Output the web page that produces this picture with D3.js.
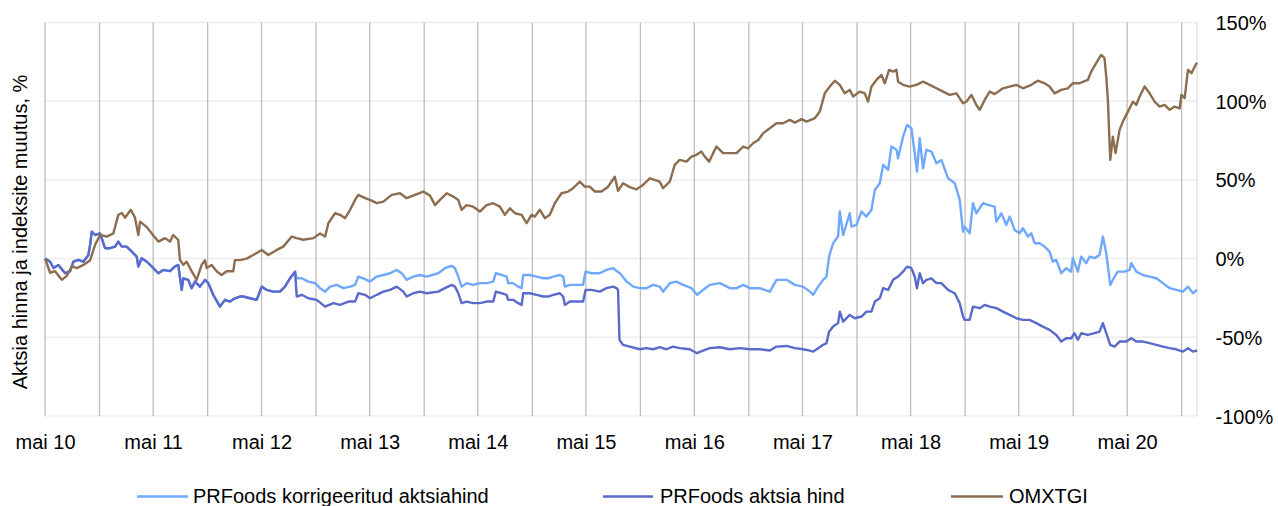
<!DOCTYPE html>
<html>
<head>
<meta charset="utf-8">
<script src="https://cdn.jsdelivr.net/npm/d3@7"></script>
<style>
  html, body { margin: 0; padding: 0; background: #fff; }
  svg { display: block; font-family: "Liberation Sans", Arial, sans-serif; }
</style>
</head>
<body>
<svg id="chart" width="1278" height="506"></svg>
<script>
// ---------- DATA (dates as decimal years, values in % change) ----------
const seriesNames = ["PRFoods korrigeeritud aktsiahind", "PRFoods aktsia hind", "OMXTGI"];
const tickLabels = ["mai 10","mai 11","mai 12","mai 13","mai 14","mai 15","mai 16","mai 17","mai 18","mai 19","mai 20"];
const tickYears = [2010,2011,2012,2013,2014,2015,2016,2017,2018,2019,2020];
const yTicks = [-100, -50, 0, 50, 100, 150];

const omxDates = [2010.330,2010.376,2010.422,2010.484,2010.530,2010.577,2010.623,2010.684,2010.746,2010.792,2010.838,2010.900,2010.961,2011.007,2011.039,2011.069,2011.122,2011.161,2011.192,2011.208,2011.270,2011.316,2011.377,2011.439,2011.485,2011.515,2011.561,2011.577,2011.608,2011.639,2011.685,2011.731,2011.778,2011.808,2011.824,2011.870,2011.916,2011.962,2012.009,2012.070,2012.085,2012.131,2012.193,2012.254,2012.332,2012.393,2012.471,2012.531,2012.609,2012.655,2012.716,2012.809,2012.870,2012.917,2012.947,2013.009,2013.055,2013.101,2013.148,2013.194,2013.224,2013.286,2013.332,2013.394,2013.455,2013.533,2013.609,2013.671,2013.748,2013.825,2013.887,2013.933,2013.979,2014.041,2014.102,2014.148,2014.179,2014.225,2014.286,2014.348,2014.410,2014.471,2014.533,2014.579,2014.626,2014.672,2014.734,2014.780,2014.826,2014.857,2014.903,2014.949,2014.995,2015.041,2015.103,2015.164,2015.210,2015.272,2015.318,2015.365,2015.411,2015.473,2015.534,2015.596,2015.626,2015.672,2015.734,2015.796,2015.857,2015.919,2015.965,2016.011,2016.042,2016.104,2016.150,2016.196,2016.258,2016.304,2016.350,2016.396,2016.427,2016.467,2016.504,2016.535,2016.596,2016.658,2016.720,2016.781,2016.827,2016.873,2016.920,2016.966,2017.027,2017.089,2017.150,2017.212,2017.258,2017.320,2017.366,2017.443,2017.489,2017.535,2017.582,2017.628,2017.674,2017.720,2017.766,2017.797,2017.859,2017.905,2017.935,2017.967,2018.013,2018.059,2018.090,2018.130,2018.167,2018.198,2018.213,2018.259,2018.321,2018.383,2018.444,2018.506,2018.568,2018.629,2018.690,2018.752,2018.814,2018.845,2018.891,2018.937,2018.968,2019.014,2019.060,2019.106,2019.183,2019.245,2019.307,2019.368,2019.445,2019.506,2019.568,2019.614,2019.660,2019.722,2019.783,2019.829,2019.891,2019.968,2019.999,2020.045,2020.091,2020.122,2020.138,2020.153,2020.175,2020.199,2020.224,2020.261,2020.291,2020.338,2020.384,2020.415,2020.446,2020.492,2020.538,2020.584,2020.630,2020.676,2020.723,2020.769,2020.815,2020.831,2020.861,2020.892,2020.925,2020.954,2020.975];
const omxValues = [0,-9,-8,-13.5,-11,-5,-6,-4,-1,8.7,15,14,16,27.8,29,26,31,26,15,23.5,20,16,10.8,13,10.8,15,11.9,-0.8,-4,-2,-8,-13.5,-4,-1,-6,-4,-8,-10.4,-8,-8,-1,-1,0,2.3,5.5,2.3,5.5,7.6,14,13,12,13,16,14,22.5,28.8,27.8,25.7,31,37.3,40.5,38.4,37.3,35.2,36.2,40.5,41.5,38.4,40.5,42.6,40,34,37.3,41.5,39.4,37.3,31,34,33,29.9,34,35.2,33,27.8,32,28.8,27.8,22.5,27.8,26.7,31,25.7,27.8,35.2,41.5,42.6,44.7,48.9,45.7,45.7,42.6,42.6,45.7,52,43,47.9,45.4,44,46.8,51,50,48.9,44.7,48.9,59.5,62.7,61.6,64.8,65.9,68,64.8,61.6,67,71.2,67,67,67,71.2,70.1,73.3,75.4,79.7,82.8,86,86,88.1,86.4,88.6,87,89.2,93.4,105,109.3,113,110.4,105,107.2,103,106.1,105,99.7,109.3,113.5,116.7,111.4,119.9,118.8,119.9,112.4,110.4,109.3,110.4,112.4,110.4,108.2,106.1,104,105,98.7,99.7,104,97.6,94.5,100.8,106.1,104.5,108.2,109.3,110.4,108.2,110.4,113,111.4,109.3,105,107.2,108.2,111.4,111.4,113.5,118.8,124.2,129.4,127.3,115.6,100.8,62.7,77.5,67,81.8,87,93.4,99.7,97.6,103,109.3,105,99.7,96.6,97.6,94.5,96.6,95.5,104,101.9,119.9,117.8,122,124.5];

const prfDates = [2010.330,2010.376,2010.407,2010.453,2010.515,2010.561,2010.591,2010.638,2010.684,2010.730,2010.746,2010.761,2010.792,2010.838,2010.884,2010.930,2010.977,2011.007,2011.039,2011.085,2011.131,2011.177,2011.192,2011.223,2011.270,2011.316,2011.346,2011.377,2011.423,2011.485,2011.531,2011.561,2011.593,2011.608,2011.654,2011.685,2011.716,2011.762,2011.808,2011.839,2011.885,2011.947,2011.993,2012.039,2012.085,2012.131,2012.162,2012.224,2012.286,2012.332,2012.378,2012.439,2012.501,2012.547,2012.593,2012.640,2012.655,2012.701,2012.762,2012.840,2012.917,2012.993,2013.055,2013.132,2013.194,2013.224,2013.286,2013.332,2013.394,2013.455,2013.517,2013.579,2013.640,2013.671,2013.732,2013.794,2013.856,2013.963,2014.025,2014.087,2014.118,2014.148,2014.179,2014.225,2014.286,2014.348,2014.410,2014.471,2014.496,2014.549,2014.595,2014.610,2014.656,2014.702,2014.734,2014.749,2014.810,2014.872,2014.933,2014.980,2015.026,2015.088,2015.118,2015.134,2015.180,2015.242,2015.303,2015.325,2015.380,2015.457,2015.519,2015.580,2015.611,2015.626,2015.639,2015.672,2015.734,2015.827,2015.889,2015.950,2016.011,2016.073,2016.134,2016.196,2016.288,2016.356,2016.411,2016.473,2016.566,2016.658,2016.750,2016.842,2016.935,2017.027,2017.089,2017.182,2017.258,2017.335,2017.397,2017.428,2017.474,2017.520,2017.551,2017.575,2017.612,2017.658,2017.674,2017.705,2017.766,2017.813,2017.875,2017.921,2017.967,2017.998,2018.044,2018.075,2018.121,2018.167,2018.213,2018.259,2018.296,2018.336,2018.367,2018.388,2018.413,2018.444,2018.475,2018.521,2018.568,2018.614,2018.675,2018.737,2018.783,2018.814,2018.829,2018.875,2018.906,2018.968,2019.014,2019.060,2019.122,2019.183,2019.245,2019.307,2019.368,2019.429,2019.491,2019.552,2019.614,2019.676,2019.722,2019.768,2019.814,2019.845,2019.876,2019.907,2019.968,2020.030,2020.076,2020.107,2020.138,2020.175,2020.215,2020.261,2020.323,2020.369,2020.415,2020.476,2020.538,2020.600,2020.661,2020.723,2020.784,2020.846,2020.892,2020.938,2020.975];
const prfValues = [0,-2,-6,-4,-9.3,-8,-2,-0.8,-2,2.3,8.7,17.1,15,16,6.6,6.6,7.6,10.8,7.6,7.6,4.4,1.3,-5,0.2,-2,-5,-7.2,-9.3,-7.2,-8,-5,-4,-19.9,-12.5,-13.5,-18.8,-14.6,-17.8,-13.5,-15.6,-23,-30.5,-26.2,-27.3,-25.2,-24.1,-24.1,-25.2,-26.2,-17.8,-19.9,-21,-21,-17.8,-12.5,-8.3,-24.1,-23,-25.2,-26.2,-30.5,-28.3,-29.4,-27.3,-27.3,-22,-23,-25.2,-23,-21,-19.9,-17.8,-21,-24.1,-22,-21,-22,-21,-18.8,-16.7,-17.8,-22,-28.3,-27.3,-28.3,-28.3,-27.3,-27.3,-21,-22,-23,-26.2,-26.2,-28.3,-29.4,-22,-22,-23,-24.1,-24.1,-23,-22,-24.1,-29.4,-27.3,-27.3,-27.3,-19.9,-19.9,-21,-18.8,-17.8,-18.8,-19.9,-51.6,-54.8,-55.9,-57.6,-56.9,-57.6,-56.3,-57.6,-55.9,-56.9,-57.6,-60.1,-58.4,-56.9,-56.3,-57.6,-56.9,-57.6,-57.6,-58.4,-55.9,-55.5,-56.9,-57.6,-58.5,-59.1,-56.9,-54.8,-53.7,-46.4,-43.2,-41,-33.7,-40,-35.8,-37.9,-36.8,-33.7,-33.7,-27.3,-25.2,-18.8,-19.9,-13.5,-11.4,-8.3,-5.1,-6.1,-11.4,-18.8,-9.3,-15.6,-13.5,-12.5,-15.6,-15.6,-19.9,-22,-28.3,-36.8,-38.9,-38.9,-30.5,-31.5,-29.4,-30.5,-31.5,-33.7,-35.8,-37.9,-38.9,-38.9,-41,-43.2,-45.3,-48.5,-52.7,-50.6,-50.6,-47.4,-51.6,-47.4,-48.5,-47.4,-46.4,-41,-47.4,-54.8,-55.9,-52.7,-52.7,-50.6,-52.7,-52.7,-53.7,-54.8,-55.9,-56.9,-57.6,-59.1,-56.9,-59.1,-58.4];

// Adjusted price: identical to the share price until the first adjustment (2012.64), then its own path
const adjSplit = 2012.640;
const adjDates = [2012.640,2012.655,2012.701,2012.762,2012.824,2012.870,2012.917,2012.963,2013.025,2013.086,2013.148,2013.194,2013.224,2013.270,2013.332,2013.394,2013.455,2013.517,2013.579,2013.625,2013.671,2013.732,2013.794,2013.856,2013.963,2014.025,2014.087,2014.118,2014.148,2014.179,2014.225,2014.286,2014.348,2014.410,2014.471,2014.496,2014.549,2014.595,2014.610,2014.656,2014.702,2014.734,2014.749,2014.810,2014.872,2014.933,2014.980,2015.026,2015.088,2015.118,2015.134,2015.180,2015.242,2015.303,2015.325,2015.380,2015.457,2015.519,2015.580,2015.626,2015.643,2015.705,2015.767,2015.827,2015.889,2015.950,2016.011,2016.042,2016.104,2016.165,2016.227,2016.304,2016.356,2016.411,2016.473,2016.566,2016.658,2016.720,2016.781,2016.842,2016.935,2017.027,2017.089,2017.182,2017.258,2017.335,2017.397,2017.428,2017.474,2017.520,2017.551,2017.575,2017.612,2017.658,2017.674,2017.705,2017.766,2017.782,2017.828,2017.875,2017.921,2017.967,2017.998,2018.044,2018.075,2018.121,2018.152,2018.198,2018.213,2018.259,2018.296,2018.336,2018.367,2018.388,2018.413,2018.444,2018.475,2018.521,2018.568,2018.614,2018.675,2018.737,2018.783,2018.814,2018.829,2018.875,2018.906,2018.937,2018.998,2019.044,2019.106,2019.122,2019.168,2019.214,2019.245,2019.291,2019.337,2019.368,2019.414,2019.445,2019.476,2019.522,2019.568,2019.614,2019.644,2019.676,2019.722,2019.768,2019.814,2019.829,2019.876,2019.907,2019.953,2019.984,2020.030,2020.076,2020.107,2020.138,2020.175,2020.215,2020.245,2020.307,2020.353,2020.369,2020.415,2020.476,2020.538,2020.600,2020.661,2020.723,2020.784,2020.846,2020.892,2020.938,2020.975];
const adjValues = [-8.3,-12.5,-12.5,-14.6,-15.6,-18.8,-21,-17.8,-16.7,-18.8,-17.8,-16.7,-11.4,-12.5,-14.6,-11.4,-10.4,-9.3,-7.2,-9.3,-13.5,-11.4,-10.4,-11.4,-9.3,-6.1,-4.6,-6.1,-11.4,-17.8,-15.6,-16.7,-15.6,-15.6,-14.6,-9.3,-10.4,-11.4,-15.6,-15.6,-17.8,-18.8,-10.4,-10.4,-11.4,-12.5,-12.5,-11.4,-10.4,-11.4,-17.8,-16.7,-16.7,-16.7,-8.3,-9.3,-9.3,-7.2,-6.1,-8.5,-9.3,-14.6,-17.8,-18.8,-18.8,-16.7,-17.8,-21,-15.6,-14.6,-16.7,-18.8,-23,-19.9,-16.7,-15.6,-18.8,-18.8,-16.7,-18.8,-18.8,-21,-13.5,-13.5,-16.7,-17.8,-21,-23,-17.8,-13.5,-11.4,1.3,9.8,14,29.9,15,28.8,20.3,21.4,29.9,26.7,31,43.6,47.9,59.5,56.4,71.2,69.1,63.8,77.5,84.9,82.8,67,55.3,76.5,57.4,69.1,68,60.6,62.7,51,47.9,37.3,17.1,20.3,16.1,35.2,28.8,35.2,34.1,33,23.5,28.8,21.4,26.7,18.2,16.1,19.3,14,16.1,9.8,9.8,7.6,4.4,-1.9,-0.8,-9.3,-6.1,-8.3,0.3,-8.3,1.3,-2.9,1.3,0.3,2.3,14,3.4,-16.7,-11.4,-8.3,-8.3,-7.2,-2.9,-8.3,-10.4,-11.4,-12.5,-15.6,-18.8,-19.9,-21,-17.8,-22,-19.9];

const colors = ["#6fa8fc", "#5a6acb", "#8c6d4f"];

// ---------- helpers ----------
function fromDecimal(t) {
  const y = Math.floor(t);
  const s = Date.UTC(y, 0, 1), e = Date.UTC(y + 1, 0, 1);
  return new Date(s + (t - y) * (e - s));
}
function toPoints(ds, vs) { return ds.map((d, i) => ({ date: fromDecimal(d), value: vs[i] })); }

const omx = toPoints(omxDates, omxValues);
const prf = toPoints(prfDates, prfValues);
const adj = toPoints(
  prfDates.filter(d => d < adjSplit).concat(adjDates),
  prfValues.filter((v, i) => prfDates[i] < adjSplit).concat(adjValues)
);

// ---------- layout ----------
const svg = d3.select("#chart");
const L = 45, R = 1197, T = 22.5, B = 416;
const font = '"Liberation Sans", Arial, sans-serif';

const startDate = new Date(Date.UTC(2010, 4, 1));
const x = d3.scaleUtc()
  .domain([startDate, fromDecimal(d3.max(omxDates))])
  .range([L, R]);
const y = d3.scaleLinear().domain([-100, 150]).range([B, T]);

// horizontal gridlines
svg.append("g").selectAll("line").data(yTicks).join("line")
  .attr("x1", L).attr("x2", R)
  .attr("y1", d => y(d)).attr("y2", d => y(d))
  .attr("stroke", "#ececec").attr("stroke-width", 1.5);

// vertical gridlines every 6 months, starting May 2010
const vDates = d3.range(0, 30).map(k => d3.utcMonth.offset(startDate, 6 * k))
  .filter(d => d <= x.domain()[1]);
svg.append("g").selectAll("line").data(vDates).join("line")
  .attr("x1", d => x(d)).attr("x2", d => x(d))
  .attr("y1", T).attr("y2", B)
  .attr("stroke", "#bdbdbd").attr("stroke-width", 1.3);
// right edge
svg.append("line").attr("x1", R).attr("x2", R).attr("y1", T).attr("y2", B)
  .attr("stroke", "#e3e3e3").attr("stroke-width", 1.5);

// series lines
const line = d3.line().x(d => x(d.date)).y(d => y(d.value));
[adj, prf, omx].forEach((s, i) => {
  svg.append("path").datum(s)
    .attr("d", line)
    .attr("fill", "none")
    .attr("stroke", colors[i])
    .attr("stroke-width", 2.4)
    .attr("stroke-linejoin", "round");
});

// x axis labels
const tickDates = tickYears.map(yr => new Date(Date.UTC(yr, 4, 1)));
const xAxis = d3.axisBottom(x).tickValues(tickDates)
  .tickFormat((d, i) => tickLabels[i]).tickSize(0).tickPadding(0);
const gx = svg.append("g").attr("transform", `translate(0,${B})`).call(xAxis);
gx.select(".domain").remove();
gx.selectAll("text").attr("dy", null).attr("y", 33)
  .style("font-family", font).style("font-size", "20px").attr("fill", "#000");

// y axis labels (right)
const yAxis = d3.axisRight(y).tickValues(yTicks).tickFormat(d => d + "%").tickSize(0).tickPadding(0);
const gy = svg.append("g").attr("transform", `translate(${R + 18.5},0)`).call(yAxis);
gy.select(".domain").remove();
gy.selectAll("text").attr("x", 0).attr("dy", "0.35em")
  .style("font-family", font).style("font-size", "20px").attr("fill", "#000");

// y axis title
svg.append("text")
  .attr("transform", "translate(27,232) rotate(-90)")
  .attr("text-anchor", "middle")
  .style("font-family", font).style("font-size", "20px").attr("fill", "#000")
  .text("Aktsia hinna ja indeksite muutus, %");

// legend
const legendPos = [[137, 188, 193], [603, 653, 660], [951, 1003, 1009]];
const lg = svg.append("g");
seriesNames.forEach((name, i) => {
  const p = legendPos[i];
  lg.append("line").attr("x1", p[0]).attr("x2", p[1]).attr("y1", 496.5).attr("y2", 496.5)
    .attr("stroke", colors[i]).attr("stroke-width", 2.4);
  lg.append("text").attr("x", p[2]).attr("y", 503)
    .style("font-family", font).style("font-size", "20px").attr("fill", "#000")
    .text(name);
});
</script>
</body>
</html>
